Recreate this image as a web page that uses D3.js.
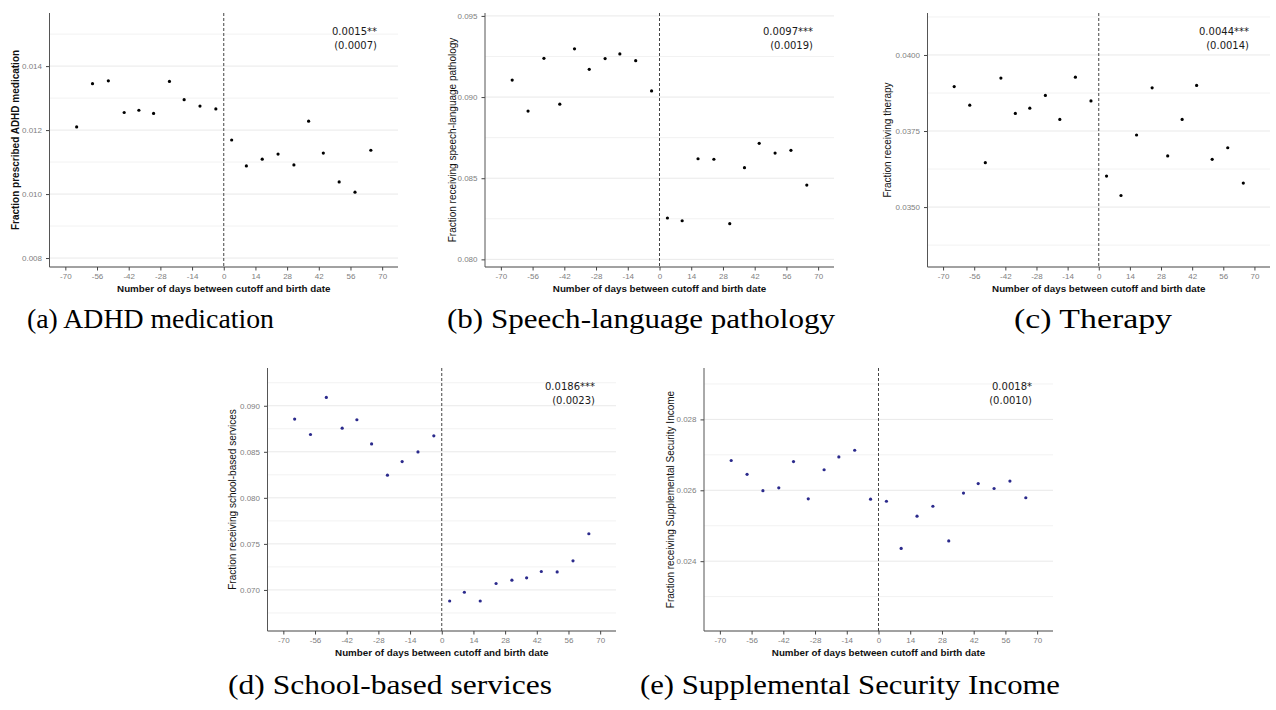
<!DOCTYPE html>
<html>
<head>
<meta charset="utf-8">
<script src="https://cdn.jsdelivr.net/npm/d3@7"></script>
<style>
  html, body { margin: 0; padding: 0; background: #fff; }
  svg { display: block; }
</style>
</head>
<body>
<svg id="chart" width="1276" height="710"></svg>
<script>
// ---------------- DATA ----------------
const days = [-65, -58, -51, -44, -37.5, -31, -24, -17.5, -10.5, -3.5,
              3.5, 10, 17, 24, 31, 37.5, 44, 51, 58, 65];
const xTicks = [-70, -56, -42, -28, -14, 0, 14, 28, 42, 56, 70];

const adhd = [0.01210, 0.01345, 0.01354, 0.01255, 0.01262, 0.01252, 0.01352, 0.01295, 0.01275, 0.01266,
              0.01169, 0.01088, 0.01109, 0.01125, 0.01091, 0.01228, 0.01128, 0.01038, 0.01006, 0.01137];
const speech = [0.09105, 0.08914, 0.09239, 0.08956, 0.09297, 0.09171, 0.09237, 0.09266, 0.09224, 0.09038,
                0.08255, 0.08238, 0.08620, 0.08617, 0.08220, 0.08565, 0.08715, 0.08655, 0.08672, 0.08458];
const therapy = [0.03896, 0.03835, 0.03646, 0.03924, 0.03808, 0.03825, 0.03867, 0.03788, 0.03927, 0.03849,
                 0.03602, 0.03538, 0.03737, 0.03892, 0.03668, 0.03788, 0.03900, 0.03657, 0.03695, 0.03579];
const school = [0.08855, 0.08688, 0.09090, 0.08757, 0.08848, 0.08586, 0.08246, 0.08394, 0.08499, 0.08673,
                0.06880, 0.06975, 0.06880, 0.07070, 0.07106, 0.07131, 0.07200, 0.07196, 0.07316, 0.07610];
const ssi = [0.02684, 0.02645, 0.02599, 0.02607, 0.02681, 0.02576, 0.02658, 0.02694, 0.02713, 0.02575,
             0.02569, 0.02436, 0.02527, 0.02555, 0.02457, 0.02592, 0.02619, 0.02605, 0.02626, 0.02579];

const yTicksA = [0.008, 0.010, 0.012, 0.014];
const yTicksB = [0.080, 0.085, 0.090, 0.095];
const yTicksC = [0.0350, 0.0375, 0.0400];
const yTicksD = [0.070, 0.075, 0.080, 0.085, 0.090];
const yTicksE = [0.024, 0.026, 0.028];

const yMinorA = [0.009, 0.011, 0.013, 0.015];
const yMinorB = [0.0825, 0.0875, 0.0925];
const yMinorC = [0.03375, 0.03625, 0.03875, 0.04125];
const yMinorD = [0.0675, 0.0725, 0.0775, 0.0825, 0.0875, 0.0925];
const yMinorE = [0.023, 0.025, 0.027, 0.029];

const yTitles = ["Fraction prescribed ADHD medication", "Fraction receiving speech-language pathology",
                 "Fraction receiving therapy", "Fraction receiving school-based services",
                 "Fraction receiving Supplemental Security Income"];
const estimates = ["0.0015**", "0.0097***", "0.0044***", "0.0186***", "0.0018*"];
const stdErrors = ["(0.0007)", "(0.0019)", "(0.0014)", "(0.0023)", "(0.0010)"];
const captions = ["(a) ADHD medication", "(b) Speech-language pathology", "(c) Therapy",
                  "(d) School-based services", "(e) Supplemental Security Income"];
const xTitle = "Number of days between cutoff and birth date";

// ---------------- LAYOUT ----------------
const panels = [
  { values: adhd, ticks: yTicksA, minor: yMinorA, fmt: ".3f", ydom: [0.00772, 0.01566],
    box: { l: 49.5, r: 398, t: 13, b: 267 }, color: "#000", bold: true,
    capX: 150.5, capY: 328, capW: 247, titleX: 15 },
  { values: speech, ticks: yTicksB, minor: yMinorB, fmt: ".3f", ydom: [0.07953, 0.09518],
    box: { l: 485, r: 834, t: 13, b: 267 }, color: "#000", bold: false,
    capX: 641, capY: 328, capW: 388, titleX: 452 },
  { values: therapy, ticks: yTicksC, minor: yMinorC, fmt: ".4f", ydom: [0.03303, 0.04138],
    box: { l: 927.5, r: 1270, t: 13, b: 267 }, color: "#000", bold: false,
    capX: 1093, capY: 328, capW: 158, titleX: 887 },
  { values: school, ticks: yTicksD, minor: yMinorD, fmt: ".3f", ydom: [0.06554, 0.0941],
    box: { l: 267.5, r: 616, t: 368, b: 631 }, color: "#2b2a8c", bold: false,
    capX: 390, capY: 694, capW: 324, titleX: 232 },
  { values: ssi, ticks: yTicksE, minor: yMinorE, fmt: ".3f", ydom: [0.02203, 0.02945],
    box: { l: 704, r: 1053, t: 368, b: 631 }, color: "#2b2a8c", bold: false,
    capX: 850, capY: 694, capW: 420, titleX: 670 }
];

const svg = d3.select("#chart");
const tickFont = "'Liberation Sans', Arial, sans-serif";

panels.forEach((p, i) => {
  const bx = p.box;
  const x = d3.scaleLinear().domain([-77, 77]).range([bx.l, bx.r]);
  const y = d3.scaleLinear().domain(p.ydom).range([bx.b, bx.t]);
  const g = svg.append("g");

  // minor grid
  g.selectAll(".minor").data(p.minor).enter().append("line")
    .attr("x1", bx.l).attr("x2", bx.r)
    .attr("y1", d => y(d)).attr("y2", d => y(d))
    .attr("stroke", "#f2f2f2").attr("stroke-width", 1);
  // major grid
  g.selectAll(".major").data(p.ticks).enter().append("line")
    .attr("x1", bx.l).attr("x2", bx.r)
    .attr("y1", d => y(d)).attr("y2", d => y(d))
    .attr("stroke", "#e9e9e9").attr("stroke-width", 1);

  // dashed cutoff line
  g.append("line")
    .attr("x1", x(0)).attr("x2", x(0))
    .attr("y1", bx.t).attr("y2", bx.b)
    .attr("stroke", "#444").attr("stroke-width", 1)
    .attr("stroke-dasharray", "3,2");

  // axes
  const xAxis = d3.axisBottom(x).tickValues(xTicks).tickSize(3.5).tickPadding(3)
    .tickFormat(d => String(d));
  const gx = g.append("g").attr("transform", `translate(0,${bx.b})`).call(xAxis);
  const yAxis = d3.axisLeft(y).tickValues(p.ticks).tickSize(3.5).tickPadding(4)
    .tickFormat(d3.format(p.fmt));
  const gy = g.append("g").attr("transform", `translate(${bx.l},0)`).call(yAxis);

  [gx, gy].forEach(ax => {
    ax.select(".domain").remove();
    ax.selectAll(".tick line").attr("stroke", "#444");
    ax.selectAll(".tick text").attr("fill", "#808080")
      .style("font-family", tickFont).style("font-size", "8px");
  });
  // axis lines
  g.append("line").attr("x1", bx.l).attr("x2", bx.r).attr("y1", bx.b).attr("y2", bx.b)
    .attr("stroke", "#444").attr("stroke-width", 1);
  g.append("line").attr("x1", bx.l).attr("x2", bx.l).attr("y1", bx.t).attr("y2", bx.b)
    .attr("stroke", "#555").attr("stroke-width", 1);

  // points
  g.selectAll(".pt").data(p.values).enter().append("circle")
    .attr("cx", (d, j) => x(days[j]))
    .attr("cy", d => y(d))
    .attr("r", 1.6)
    .attr("fill", p.color);

  // annotation
  const ax = bx.r - 21;
  g.append("text").attr("x", ax).attr("y", bx.t + 21.5).attr("text-anchor", "end")
    .style("font-family", "'DejaVu Sans', sans-serif").style("font-size", "10px").attr("fill", "#1a1a1a")
    .text(estimates[i]);
  g.append("text").attr("x", ax).attr("y", bx.t + 35.5).attr("text-anchor", "end")
    .style("font-family", "'DejaVu Sans', sans-serif").style("font-size", "10px").attr("fill", "#1a1a1a")
    .text(stdErrors[i]);

  // x title
  g.append("text").attr("x", (bx.l + bx.r) / 2).attr("y", bx.b + 25)
    .attr("text-anchor", "middle")
    .style("font-family", tickFont).style("font-size", "9.8px").style("font-weight", "bold")
    .attr("fill", "#111").text(xTitle);

  // y title
  const cy = (bx.t + bx.b) / 2;
  g.append("text")
    .attr("transform", `translate(${p.titleX + 3.5},${cy}) rotate(-90)`)
    .attr("text-anchor", "middle")
    .style("font-family", tickFont).style("font-size", "10px")
    .style("font-weight", p.bold ? "bold" : "normal")
    .attr("fill", "#111").text(yTitles[i]);

  // caption
  svg.append("text").attr("x", p.capX).attr("y", p.capY).attr("text-anchor", "middle")
    .attr("textLength", p.capW).attr("lengthAdjust", "spacingAndGlyphs")
    .style("font-family", "'Liberation Serif', 'Times New Roman', serif").style("font-size", "27px")
    .attr("fill", "#000").text(captions[i]);
});
</script>
</body>
</html>
